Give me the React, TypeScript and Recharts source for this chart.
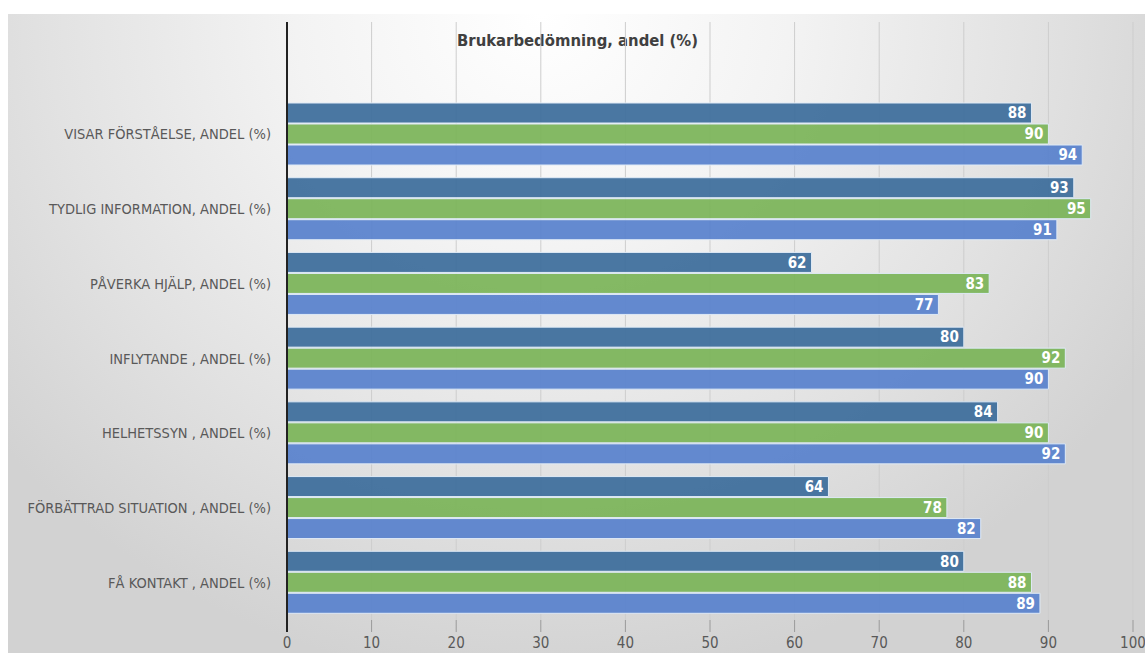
import { Bar, BarChart, CartesianGrid, LabelList, XAxis, YAxis } from 'recharts'

// Brukarbedömning per fråga, tre mätningar (mörkblå, grön, blå)
const categories = [
  'VISAR FÖRSTÅELSE, ANDEL (%)',
  'TYDLIG INFORMATION, ANDEL (%)',
  'PÅVERKA HJÄLP, ANDEL (%)',
  'INFLYTANDE , ANDEL (%)',
  'HELHETSSYN , ANDEL (%)',
  'FÖRBÄTTRAD SITUATION , ANDEL (%)',
  'FÅ KONTAKT , ANDEL (%)',
]
const serie1 = [88, 93, 62, 80, 84, 64, 80]
const serie2 = [90, 95, 83, 92, 90, 78, 88]
const serie3 = [94, 91, 77, 90, 92, 82, 89]
const xTicks = [0, 10, 20, 30, 40, 50, 60, 70, 80, 90, 100]

const data = categories.map((name, i) => ({ name, s1: serie1[i], s2: serie2[i], s3: serie3[i] }))

const FONT = "'DejaVu Sans Condensed', 'Liberation Sans Narrow', sans-serif"
const TEXT = '#404040'

const TICK_SIZE = 12
const TICK_MARGIN = 4

function XTick({ x, y, payload }: any) {
  const top = y - TICK_MARGIN - TICK_SIZE
  const isZero = payload.value === 0
  return (
    <g>
      <line x1={x} x2={x} y1={top} y2={top + TICK_SIZE} stroke={isZero ? '#222' : '#9a9a9a'} strokeWidth={isZero ? 2 : 1} />
      <text x={x} y={y} dy="0.8em" textAnchor="middle" fill="#595959" fontSize={15} fontFamily={FONT}>
        {payload.value}
      </text>
    </g>
  )
}

// plain single-line category label (Recharts' Text would wrap the long ones)
function YTick({ x, y, payload }: any) {
  return (
    <text x={x} y={y} dy="0.35em" textAnchor="end" fill="#595959" fontSize={14.5} fontFamily={FONT}>
      {payload.value}
    </text>
  )
}

const barProps = {
  stroke: '#dfeaf6',
  strokeWidth: 1,
  fillOpacity: 0.94,
  isAnimationActive: false,
}

const labelProps = {
  position: 'insideRight' as const,
  offset: 5,
  fill: '#ffffff',
  fontSize: 15,
  fontWeight: 700,
  fontFamily: FONT,
}

export default function App() {
  return (
    <div style={{ position: 'absolute', left: 0, top: 0, width: 1145, height: 653, background: '#fff', overflow: 'hidden' }}>
      <div
        style={{
          position: 'absolute',
          left: 8,
          top: 14,
          width: 1137,
          height: 639,
          background: 'radial-gradient(ellipse 62% 105% at 47% 0%, #ffffff 0%, #f3f3f3 35%, #e2e2e2 70%, #d2d2d2 100%)',
        }}
      >
        <div
          style={{
            position: 'absolute',
            left: 449,
            top: 17,
            fontFamily: FONT,
            fontWeight: 700,
            fontSize: 16.5,
            color: TEXT,
            whiteSpace: 'nowrap',
          }}
        >
          Brukarbedömning, andel (%)
        </div>
        <BarChart
          width={1137}
          height={639}
          data={data}
          layout="vertical"
          margin={{ top: 8, right: 12, bottom: 0, left: 0 }}
          barSize={20}
          barGap={1}
        >
          <CartesianGrid horizontal={false} stroke="#cdcdcd" />
          <XAxis
            type="number"
            domain={[0, 100]}
            ticks={xTicks}
            interval={0}
            axisLine={false}
            tickLine={false}
            tickSize={TICK_SIZE}
            tickMargin={TICK_MARGIN}
            height={33}
            tick={<XTick />}
          />
          <YAxis
            type="category"
            dataKey="name"
            width={279}
            padding={{ top: 75, bottom: 0 }}
            axisLine={{ stroke: '#222', strokeWidth: 2 }}
            tickLine={false}
            tickSize={6}
            tickMargin={10}
            tick={<YTick />}
            interval={0}
          />
          <Bar dataKey="s1" name="Serie 1" fill="#3f6f9c" {...barProps}>
            <LabelList dataKey="s1" {...labelProps} />
          </Bar>
          <Bar dataKey="s2" name="Serie 2" fill="#7cb55a" {...barProps}>
            <LabelList dataKey="s2" {...labelProps} />
          </Bar>
          <Bar dataKey="s3" name="Serie 3" fill="#5a83cd" {...barProps}>
            <LabelList dataKey="s3" {...labelProps} />
          </Bar>
        </BarChart>
      </div>
    </div>
  )
}
